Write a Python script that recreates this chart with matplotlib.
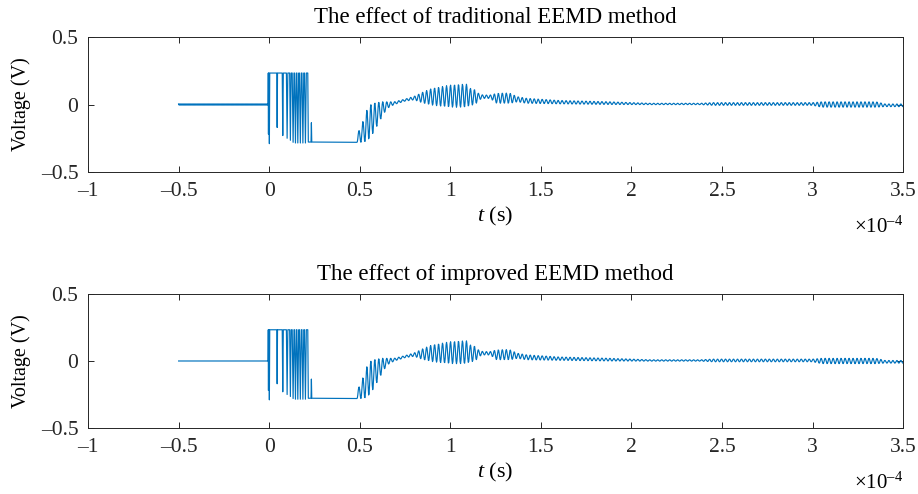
import numpy as np
import matplotlib.pyplot as plt
from matplotlib.ticker import FuncFormatter, MultipleLocator

plt.rcParams['font.family'] = ['Liberation Serif', 'DejaVu Serif']
plt.rcParams['mathtext.fontset'] = 'custom'
plt.rcParams['mathtext.rm'] = 'Liberation Serif'
plt.rcParams['mathtext.it'] = 'Liberation Serif:italic'

SCALE = 1e-4  # time values below are in units of 1e-4 s
titles = ["The effect of traditional EEMD method", "The effect of improved EEMD method"]

# pre-trigger segment (traditional method keeps a small jitter, improved is clean)
pre_t = [-0.5, -0.006]
pre_ripple = [0.004, 0.0]

# switching burst right after t = 0
pwm_high = 0.233
pwm_dip_t = [-0.004, 0.001, 0.044, 0.075, 0.099, 0.117, 0.132, 0.145, 0.158, 0.172, 0.186, 0.200]
pwm_dip_v = [-0.22, -0.29, -0.17, -0.23, -0.25, -0.265, -0.28, -0.285, -0.285, -0.285, -0.285, -0.285]
pwm_dip_w = [0.001, 0.002, 0.002, 0.003, 0.004, 0.004, 0.005, 0.005, 0.005, 0.005, 0.005, 0.005]
pwm_end = 0.213
low_level = -0.278
spike_t = 0.233
spike_v = -0.135

# envelope of the oscillating recovery (upper / lower edge)
env_t = [0.484, 0.49, 0.52, 0.54, 0.567, 0.613, 0.65, 0.69, 0.75, 0.80, 0.85, 0.90, 1.00, 1.05,
         1.09, 1.11, 1.137, 1.155, 1.18, 1.22, 1.256, 1.30, 1.33, 1.37, 1.42, 1.60, 1.88, 2.10,
         2.38, 2.45, 3.0, 3.05, 3.35, 3.40, 3.5]
env_hi = [-0.278, -0.21, -0.115, -0.04, 0.009, 0.021, 0.02, 0.02, 0.04, 0.06, 0.093, 0.12, 0.144, 0.15,
          0.15, 0.12, 0.11, 0.083, 0.07, 0.07, 0.083, 0.085, 0.083, 0.058, 0.046, 0.03, 0.02, 0.009,
          0.009, 0.014, 0.014, 0.02, 0.02, 0.004, 0.004]
env_lo = [-0.28, -0.28, -0.28, -0.275, -0.226, -0.115, -0.03, 0.0, 0.025, 0.035, 0.01, -0.005, -0.02, -0.02,
          -0.02, -0.004, -0.004, 0.033, 0.045, 0.045, 0.009, 0.009, 0.009, 0.02, 0.009, 0.005, 0.0, -0.001,
          -0.001, -0.006, -0.006, -0.02, -0.02, -0.016, -0.016]
osc_period = 0.022
dt = 0.0025


def build(ripple):
    t_pre = np.arange(pre_t[0], pre_t[1], dt)
    v_pre = ripple * np.where(np.arange(len(t_pre)) % 2 == 0, 1, -1)
    t_b = [pre_t[1]]
    v_b = [0.0]
    for tc, d, w in zip(pwm_dip_t, pwm_dip_v, pwm_dip_w):
        t_b += [tc - w, tc, tc + w]
        v_b += [pwm_high, d, pwm_high]
    t_b += [pwm_end, pwm_end + 0.003, spike_t - 0.002, spike_t, spike_t + 0.002]
    v_b += [pwm_high, low_level, low_level, spike_v, low_level]
    t_e = np.arange(env_t[0], env_t[-1] + 1e-9, dt)
    hi = np.interp(t_e, env_t, env_hi)
    lo = np.interp(t_e, env_t, env_lo)
    v_e = lo + (hi - lo) * (0.5 - 0.5 * np.cos(2 * np.pi * (t_e - env_t[0]) / osc_period))
    t = np.concatenate([t_pre, t_b, t_e])
    v = np.concatenate([v_pre, v_b, v_e])
    return t * SCALE, v


def fmt(x, pos):
    s = '%g' % round(x, 6)
    return s.replace('-', '\u2013')


fig = plt.figure(figsize=(9.18, 4.94), dpi=100)
boxes = [[0.0959, 0.6518, 0.888, 0.2733], [0.0959, 0.1336, 0.888, 0.2713]]
offset_y = [0.528, 0.010]

for i in range(2):
    ax = fig.add_axes(boxes[i])
    t, v = build(pre_ripple[i])
    ax.plot(t, v, color='#0072BD', lw=0.85)
    ax.set_xlim(-1 * SCALE, 3.5 * SCALE)
    ax.set_ylim(-0.5, 0.5)
    ax.xaxis.set_major_locator(MultipleLocator(0.5 * SCALE))
    ax.xaxis.set_major_formatter(FuncFormatter(lambda x, p: fmt(x / SCALE, p)))
    ax.set_yticks([-0.5, 0, 0.5])
    ax.yaxis.set_major_formatter(FuncFormatter(fmt))
    ax.tick_params(direction='in', top=True, right=True, length=4, width=0.7,
                   colors='#262626', labelsize=15.5, pad=7)
    for sp in ax.spines.values():
        sp.set_color('#262626')
        sp.set_linewidth(0.7)
    ax.set_title(titles[i], fontsize=16.5, pad=10)
    ax.set_xlabel('$t$ (s)', fontsize=16, labelpad=3)
    ax.set_ylabel('Voltage (V)', fontsize=14.5, labelpad=7)
    fig.text(0.957, offset_y[i], '\u00d710$^{\u2013 4}$', fontsize=15, ha='center', va='baseline')

fig.savefig('out.png', dpi=100)
